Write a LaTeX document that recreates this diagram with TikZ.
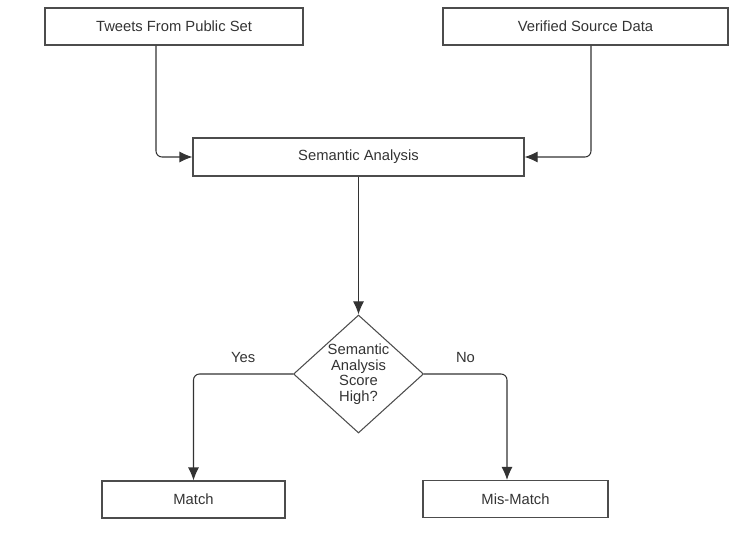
\documentclass[tikz,border=0pt]{standalone}
\usepackage{fontspec}
\setmainfont{Liberation Sans}
\usetikzlibrary{arrows.meta,positioning,shapes.geometric}

\begin{document}
\begin{tikzpicture}[>={Latex[length=2.6mm,width=2.2mm]},
	every node/.style={font=\fontsize{8.4pt}{8.8pt}\selectfont, text=black!80},
	box/.style={draw=black!70, line width=0.6pt, minimum height=7.4mm},
	link/.style={->, draw=black!80, line width=0.6pt, rounded corners=1.2mm}]
	\useasboundingbox (0,0) rectangle (14.66,10.7);
	\node[box, minimum width=51.6mm] (tweets) at (3.48,10.17) {Tweets From Public Set};
	\node[box, minimum width=57mm] (verified) at (11.71,10.17) {Verified Source Data};
	\node[box, minimum width=66.2mm, minimum height=7.6mm] (semantic) at (7.17,7.56) {Semantic Analysis};
	\node[draw=black!70, line width=0.6pt, diamond, aspect=1.1, inner sep=0pt,
		minimum width=26mm, minimum height=23.6mm, align=center] (decide) at (7.17,3.22)
		{Semantic\\Analysis\\Score\\High?};
	\node[box, minimum width=36.6mm] (match) at (3.87,0.71) {Match};
	\node[box, minimum width=37mm] (mismatch) at (10.31,0.72) {Mis-Match};
	% inputs into the analysis
	\draw[link] ([xshift=-3.6mm]tweets.south) |- (semantic.west);
	\draw[link] ([xshift=1.1mm]verified.south) |- (semantic.east);
	\draw[link] (semantic) -- (decide);
	% decision
	\draw[link] (decide.west) -| node[pos=0.25, above=1mm] {Yes} (match.north);
	\draw[link] (decide.east) -| node[pos=0.25, above=1mm] {No} ([xshift=-1.7mm]mismatch.north);
\end{tikzpicture}
\end{document}
